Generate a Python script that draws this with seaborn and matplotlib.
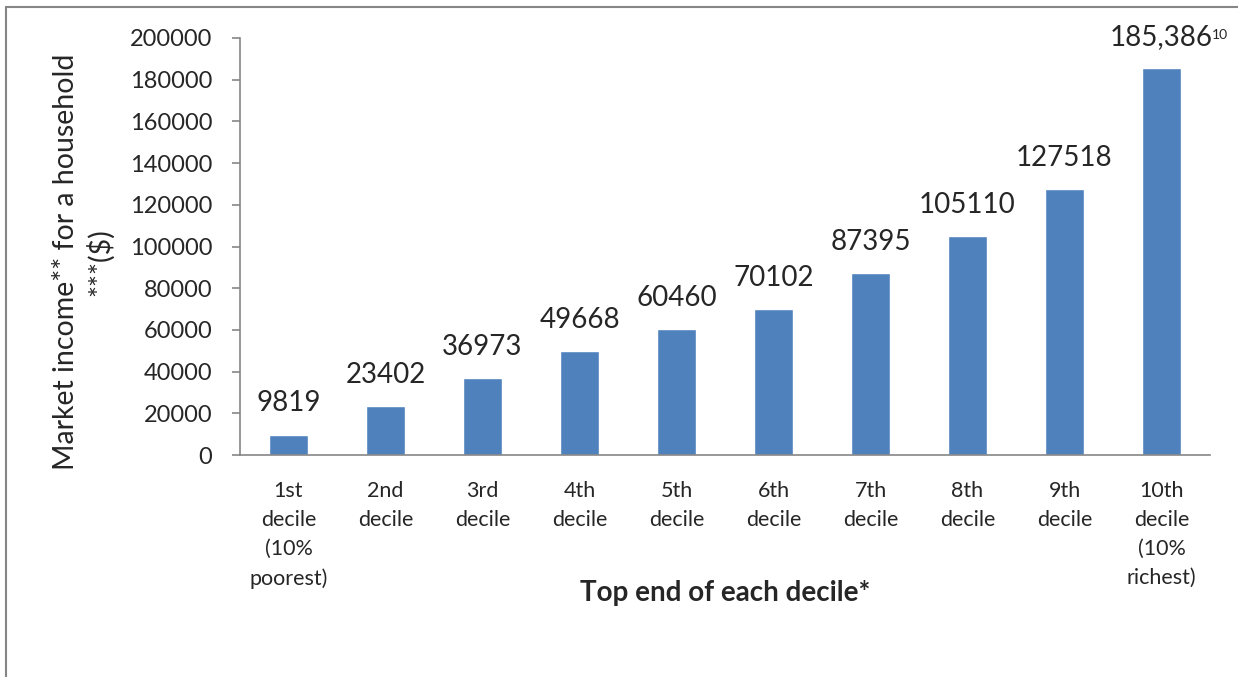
import matplotlib
matplotlib.use("Agg")
import matplotlib.pyplot as plt
import seaborn as sns
import pandas as pd
from matplotlib.patches import Rectangle

# values
deciles = ["1st\ndecile\n(10%\npoorest)", "2nd\ndecile", "3rd\ndecile", "4th\ndecile",
           "5th\ndecile", "6th\ndecile", "7th\ndecile", "8th\ndecile", "9th\ndecile",
           "10th\ndecile\n(10%\nrichest)"]
income = [9819, 23402, 36973, 49668, 60460, 70102, 87395, 105110, 127518, 185386]
bar_labels = ["9819", "23402", "36973", "49668", "60460", "70102", "87395",
              "105110", "127518", "185,386"]
yticks = list(range(0, 200001, 20000))

df = pd.DataFrame({"decile": deciles, "income": income})

sns.set_style("white")
plt.rcParams["font.family"] = ["Lato", "DejaVu Sans"]

fig = plt.figure(figsize=(12.38, 6.77), dpi=100)
ax = fig.add_axes([240 / 1238, 1 - 455 / 677, 970 / 1238, 417 / 677])

sns.barplot(data=df, x="decile", y="income", color="#4F81BD", saturation=1,
            width=0.4, ax=ax)

ax.set_ylim(0, 200000)
ax.set_xlim(-0.5, len(deciles) - 0.5)
ax.set_yticks(yticks)
ax.set_yticklabels([str(v) for v in yticks], fontsize=17)
ax.set_xticks(range(len(deciles)))
ax.set_xticklabels(deciles, fontsize=15.5, linespacing=1.55)
ax.set_xticks([i - 0.5 for i in range(len(deciles) + 1)], minor=True)

ax.tick_params(axis="x", which="major", length=0, pad=19)
ax.tick_params(axis="x", which="minor", length=6, width=1.2, color="#868686", direction="out")
ax.tick_params(axis="y", length=6, width=1.2, color="#868686", direction="out", pad=14, left=True)

for side in ["top", "right"]:
    ax.spines[side].set_visible(False)
for side in ["left", "bottom"]:
    ax.spines[side].set_color("#868686")
    ax.spines[side].set_linewidth(1.2)

# value labels above bars
texts = ax.bar_label(ax.containers[0], labels=bar_labels, padding=13, fontsize=20)
ax.annotate("10", xy=(1, 1), xycoords=texts[-1], xytext=(-1, -3.5),
            textcoords="offset points", fontsize=10, ha="left", va="top")

ax.set_xlabel("Top end of each decile*", fontsize=20, fontweight="bold")
ax.xaxis.set_label_coords(0.5, -0.3)
ax.set_ylabel("Market income** for a household\n***($)", fontsize=20.5, linespacing=1.3)
ax.yaxis.set_label_coords(-0.13, 0.463)

# outer chart border like the spreadsheet frame
fig.patches.append(Rectangle((6 / 1238, -0.1), 1.2, 1.1 - 7 / 677, transform=fig.transFigure,
                             fill=False, edgecolor="#868686", linewidth=1.5))

fig.savefig("out.png", dpi=100)
